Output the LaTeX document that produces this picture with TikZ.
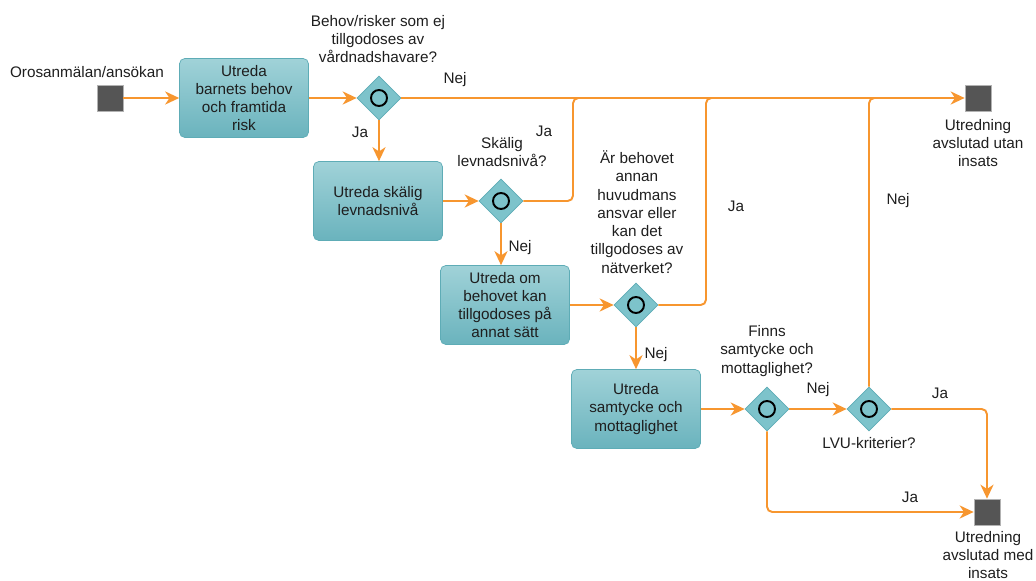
\documentclass[tikz,border=0pt]{standalone}
\usepackage{fontspec}
\setmainfont{Liberation Sans}
\usetikzlibrary{shapes.geometric,arrows.meta,positioning}
\definecolor{flow}{HTML}{F7962F}
\definecolor{boxtop}{HTML}{A0D2D8}
\definecolor{boxbot}{HTML}{6AB3BD}
\definecolor{boxline}{HTML}{5EACB6}
\definecolor{gatefill}{HTML}{7DC3CB}
\definecolor{endfill}{HTML}{555555}
\definecolor{ink}{HTML}{1E1E1E}
\tikzset
{
    txt/.style      = {align=center, inner sep=0pt, text=ink, font=\fontsize{8.7}{10.4}\selectfont},
    task/.style     = {txt, rectangle, rounded corners=3pt, draw=boxline, top color=boxtop, bottom color=boxbot, minimum width=2.58cm, minimum height=1.58cm},
    gate/.style     = {diamond, draw=boxline, fill=gatefill, minimum size=0.88cm, inner sep=0pt,
                       path picture={\draw[black, line width=1.1pt] (path picture bounding box.center) circle (0.16cm);}},
    endsq/.style    = {rectangle, draw=gray!60, fill=endfill, minimum size=0.52cm, inner sep=0pt},
    flowline/.style = {draw=flow, line width=1.1pt, rounded corners=3pt},
    arrow/.style    = {flowline, -{Stealth[length=8pt, width=7.5pt, inset=2.5pt]}}
}

\begin{document}
\begin{tikzpicture}[x=0.02cm, y=-0.02cm]
   \useasboundingbox (0, 0) rectangle (1036, 581);

   % start and tasks
   \node (start)  [endsq]                at (110, 98)   {};
   \node (lstart) [txt]                  at (87, 72)    {Orosanmälan/ansökan};
   \node (t1)     [task]                 at (244, 98)   {Utreda\\barnets behov\\och framtida\\risk};
   \node (t2)     [task]                 at (378, 201)  {Utreda skälig\\levnadsnivå};
   \node (t3)     [task]                 at (505, 305)  {Utreda om\\behovet kan\\tillgodoses på\\annat sätt};
   \node (t4)     [task]                 at (636, 409)  {Utreda\\samtycke och\\mottaglighet};

   % gateways
   \node (g1)     [gate]                 at (379, 98)   {};
   \node (g2)     [gate]                 at (501, 201)  {};
   \node (g3)     [gate]                 at (636, 305)  {};
   \node (g4)     [gate]                 at (767, 409)  {};
   \node (g5)     [gate]                 at (869, 409)  {};

   \node (q1)     [txt]                  at (378, 39)   {Behov/risker som ej\\tillgodoses av\\vårdnadshavare?};
   \node (q2)     [txt]                  at (502, 152)  {Skälig\\levnadsnivå?};
   \node (q3)     [txt]                  at (637, 212)  {Är behovet\\annan\\huvudmans\\ansvar eller\\kan det\\tillgodoses av\\nätverket?};
   \node (q4)     [txt]                  at (767, 351)  {Finns\\samtycke och\\mottaglighet?};
   \node (q5)     [txt]                  at (869, 443)  {LVU-kriterier?};

   % ends
   \node (e1)     [endsq]                at (978, 98)   {};
   \node (le1)    [txt]                  at (978, 143)  {Utredning\\avslutad utan\\insats};
   \node (e2)     [endsq]                at (987, 512)  {};
   \node (le2)    [txt]                  at (988, 555)  {Utredning\\avslutad med\\insats};

   \coordinate (j1) at (573, 98);
   \coordinate (j2) at (706, 98);
   \coordinate (j3) at (869, 98);

   % connectors
   \path
      (start)    edge[arrow]  (t1)
      (t1)       edge[arrow]  (g1)
      (g1)       edge[arrow]  (e1)
      (g1)       edge[arrow]  (g1 |- t2.north)
      (t2)       edge[arrow]  (g2)
      (g2)       edge[arrow]  (g2 |- t3.north)
      (t3)       edge[arrow]  (g3)
      (g3)       edge[arrow]  (g3 |- t4.north)
      (t4)       edge[arrow]  (g4)
      (g4)       edge[arrow]  (g5);

   \draw[flowline] (g2.east) -| (j1) -- ([xshift=10pt]j1);
   \draw[flowline] (g3.east) -| (j2) -- ([xshift=10pt]j2);
   \draw[flowline] (g5.north) -- (j3) -- ([xshift=10pt]j3);
   \draw[arrow]    (g5.east) -| (e2.north);
   \draw[arrow]    (g4.south) |- (e2.west);

   % labels
   \node (n1) [txt] at (455, 80)  {Nej};
   \node (n2) [txt] at (360, 132) {Ja};
   \node (n3) [txt] at (544, 131) {Ja};
   \node (n4) [txt] at (520, 248) {Nej};
   \node (n5) [txt] at (736, 206) {Ja};
   \node (n6) [txt] at (656, 355) {Nej};
   \node (n7) [txt] at (818, 390) {Nej};
   \node (n8) [txt] at (898, 201) {Nej};
   \node (n9) [txt] at (940, 393) {Ja};
   \node (n10) [txt] at (910, 497) {Ja};
\end{tikzpicture}
\end{document}
